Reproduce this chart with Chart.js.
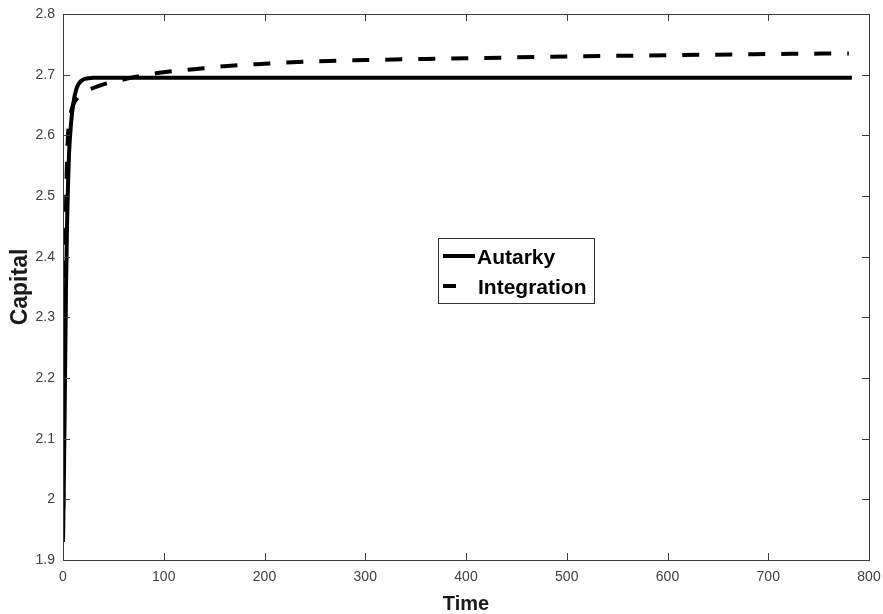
<!DOCTYPE html>
<html>
<head>
<meta charset="utf-8">
<script src="https://cdn.jsdelivr.net/npm/chart.js@4.4.0/dist/chart.umd.min.js"></script>
<style>
html,body{margin:0;padding:0;background:#fff;}
#wrap{width:883px;height:614px;position:relative;}
</style>
</head>
<body>
<div id="wrap"><canvas id="c" width="883" height="614"></canvas></div>
<script>
// ---- data ----
const autarkyT = [0, 1, 2, 3, 4, 5, 6, 8, 10, 13, 16, 20, 25, 30, 50, 100, 200, 300, 400, 500, 600, 700, 783];
const autarkyK = [1.93, 2.05, 2.20, 2.35, 2.45, 2.52, 2.57, 2.62, 2.65, 2.675, 2.686, 2.692, 2.694, 2.695, 2.695, 2.695, 2.695, 2.695, 2.695, 2.695, 2.695, 2.695, 2.695];
const integrationT = [0, 1, 2, 3, 4, 5, 7, 10, 15, 20, 30, 40, 60, 80, 100, 130, 160, 200, 250, 300, 360, 400, 500, 600, 700, 780];
const integrationK = [1.93, 2.15, 2.35, 2.48, 2.56, 2.60, 2.63, 2.65, 2.663, 2.670, 2.678, 2.684, 2.692, 2.699, 2.704, 2.709, 2.714, 2.718, 2.722, 2.724, 2.726, 2.727, 2.730, 2.732, 2.734, 2.735];
const seriesLabels = ["Autarky", "Integration"];
const xTicks = [0, 100, 200, 300, 400, 500, 600, 700, 800];
const yTicks = [1.9, 2.0, 2.1, 2.2, 2.3, 2.4, 2.5, 2.6, 2.7, 2.8];
const xTitle = "Time";
const yTitle = "Capital";

const toPts = (xs, ys) => xs.map((x, i) => ({x: x, y: ys[i]}));

const FONT = '"Liberation Sans", Arial, Helvetica, sans-serif';
const axisColor = '#3a3a3a';
const DASH = [17, 16];

const frame = {
  id: 'frame',
  afterDraw(chart) {
    const ctx = chart.ctx, a = chart.chartArea;
    const xs = chart.scales.x, ys = chart.scales.y;
    ctx.save();
    ctx.strokeStyle = axisColor;
    ctx.lineWidth = 1;
    ctx.strokeRect(Math.round(a.left) + 0.5, Math.round(a.top) + 0.5, Math.round(a.right - a.left), Math.round(a.bottom - a.top));
    const L = 7;
    ctx.beginPath();
    xTicks.forEach(v => {
      const px = Math.round(xs.getPixelForValue(v)) + 0.5;
      ctx.moveTo(px, a.bottom); ctx.lineTo(px, a.bottom - L);
      ctx.moveTo(px, a.top); ctx.lineTo(px, a.top + L);
    });
    yTicks.forEach(v => {
      const py = Math.round(ys.getPixelForValue(v)) + 0.5;
      ctx.moveTo(a.left, py); ctx.lineTo(a.left + L, py);
      ctx.moveTo(a.right, py); ctx.lineTo(a.right - L, py);
    });
    ctx.stroke();

    // legend box
    const bx = 438, by = 238, bw = 156, bh = 65;
    ctx.fillStyle = '#fff';
    ctx.fillRect(bx, by, bw, bh);
    ctx.strokeStyle = '#333';
    ctx.lineWidth = 1;
    ctx.strokeRect(bx + 0.5, by + 0.5, bw, bh);
    ctx.font = 'bold 21px ' + FONT;
    ctx.fillStyle = '#000';
    ctx.textBaseline = 'alphabetic';
    ctx.textAlign = 'left';
    const ds = chart.data.datasets;
    ctx.strokeStyle = '#000';
    ctx.lineWidth = 4;
    ctx.setLineDash([]);
    ctx.beginPath(); ctx.moveTo(443, 256); ctx.lineTo(475, 256); ctx.stroke();
    ctx.fillText(ds[0].label, 477, 264);
    ctx.beginPath(); ctx.moveTo(443, 286); ctx.lineTo(456, 286); ctx.stroke();
    ctx.fillText(ds[1].label, 478, 294);
    ctx.restore();
  }
};

new Chart(document.getElementById('c'), {
  type: 'scatter',
  data: {
    datasets: [
      {
        label: seriesLabels[0],
        data: toPts(autarkyT, autarkyK),
        showLine: true,
        borderColor: '#000',
        borderWidth: 4,
        pointRadius: 0,
        cubicInterpolationMode: 'monotone',
        fill: false
      },
      {
        label: seriesLabels[1],
        data: toPts(integrationT, integrationK),
        showLine: true,
        borderColor: '#000',
        borderWidth: 4,
        borderDash: DASH,
        pointRadius: 0,
        cubicInterpolationMode: 'monotone',
        fill: false
      }
    ]
  },
  options: {
    responsive: false,
    animation: false,
    devicePixelRatio: 1,
    layout: {padding: {top: 14, right: 14, left: 0, bottom: 0}},
    plugins: {legend: {display: false}, tooltip: {enabled: false}},
    scales: {
      x: {
        type: 'linear',
        min: xTicks[0], max: xTicks[xTicks.length - 1],
        afterBuildTicks: s => { s.ticks = xTicks.map(v => ({value: v})); },
        afterFit: s => { s.height = 54; s.paddingLeft = 0; s.paddingRight = 0; },
        grid: {display: false, drawTicks: false},
        border: {display: false},
        ticks: {
          color: '#404040',
          font: {family: FONT, size: 14},
          padding: 9,
          maxRotation: 0,
          callback: v => String(v)
        },
        title: {
          display: true, text: xTitle, color: '#1a1a1a',
          font: {family: FONT, size: 20, weight: 'bold', lineHeight: 1},
          padding: {top: 1, bottom: 0}
        }
      },
      y: {
        type: 'linear',
        min: yTicks[0], max: yTicks[yTicks.length - 1],
        afterBuildTicks: s => { s.ticks = yTicks.map(v => ({value: v})); },
        afterFit: s => { s.width = 63; s.paddingTop = 0; s.paddingBottom = 0; },
        grid: {display: false, drawTicks: false},
        border: {display: false},
        ticks: {
          color: '#404040',
          font: {family: FONT, size: 14},
          padding: 8,
          callback: v => String(Number(v.toFixed(1)))
        },
        title: {
          display: true, text: yTitle, color: '#1a1a1a',
          font: {family: FONT, size: 23, weight: 'bold', lineHeight: 1},
          padding: {top: 9, bottom: 0}
        }
      }
    }
  },
  plugins: [frame]
});
</script>
</body>
</html>
